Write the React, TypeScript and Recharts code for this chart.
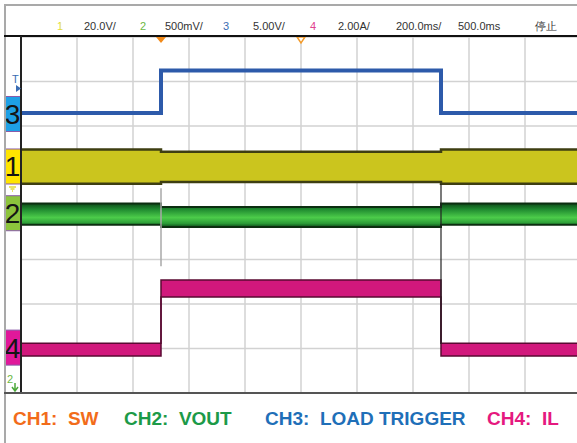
import React from "react"
import {
  ComposedChart,
  Area,
  Line,
  XAxis,
  YAxis,
  CartesianGrid,
  ReferenceLine,
  ReferenceDot
} from "recharts"

// time in ms (200 ms/div), levels in screen divisions (-4 .. 4)
const times = [0, 500, 500, 1500, 1500, 2000]
const ch3 = [2.29, 2.29, 3.25, 3.25, 2.29, 2.29]
const ch1Low = [0.7, 0.7, 0.74, 0.74, 0.7, 0.7]
const ch1High = [1.47, 1.47, 1.42, 1.42, 1.47, 1.47]
const ch2Low = [-0.22, -0.22, -0.27, -0.27, -0.22, -0.22]
const ch2High = [0.26, 0.26, 0.18, 0.18, 0.26, 0.26]
const ch4Low = [-3.17, -3.17, -1.84, -1.84, -3.17, -3.17]
const ch4High = [-2.88, -2.88, -1.46, -1.46, -2.88, -2.88]

const xTicks = [0, 200, 400, 600, 800, 1000, 1200, 1400, 1600, 1800, 2000]
const yTicks = [-4, -3, -2, -1, 0, 1, 2, 3, 4]

const channelBoxes = [
  { label: "3", level: 2.27, color: "#1ea0e6" },
  { label: "1", level: 1.09, color: "#ffe500" },
  { label: "2", level: 0.04, color: "#8cc43c" },
  { label: "4", level: -2.98, color: "#e0189a" }
]

const headerItems = [
  { text: "1", x: 57, color: "#e2dc3a" },
  { text: "20.0V/", x: 84, color: "#333" },
  { text: "2", x: 140, color: "#6cb844" },
  { text: "500mV/", x: 165, color: "#333" },
  { text: "3", x: 223, color: "#3a6cb2" },
  { text: "5.00V/", x: 253, color: "#333" },
  { text: "4", x: 310, color: "#e0428e" },
  { text: "2.00A/", x: 338, color: "#333" },
  { text: "200.0ms/", x: 396, color: "#333" },
  { text: "500.0ms", x: 458, color: "#333" },
  { text: "停止", x: 535, color: "#333" }
]

const legendItems = [
  { text: "CH1:  SW", x: 13, color: "#f26c1a" },
  { text: "CH2:  VOUT", x: 124, color: "#1c9a48" },
  { text: "CH3:  LOAD TRIGGER", x: 265, color: "#1f6fb8" },
  { text: "CH4:  IL", x: 487, color: "#e5197f" }
]

const data = times.map((t, i) => ({
  t,
  ch3: ch3[i],
  ch1: [ch1Low[i], ch1High[i]],
  ch2: [ch2Low[i], ch2High[i]],
  ch4: [ch4Low[i], ch4High[i]]
}))

function ChannelBox(props: any) {
  const { cx, cy, label, color } = props
  return (
    <g>
      <rect x={cx - 16} y={cy - 17.5} width={15.5} height={35} fill={color} stroke="#8a5aa8" strokeWidth={1} />
      <text x={cx - 8.5} y={cy + 10} textAnchor="middle" fontSize={28} fontFamily="Arial, 'Liberation Sans'" fill="#151515">
        {label}
      </text>
    </g>
  )
}

function TrigMarker(props: any) {
  const { cx, cy, hollow } = props
  return hollow ? (
    <path d={`M${cx - 4},${cy} L${cx + 4},${cy} L${cx},${cy + 6} Z`} fill="#fff" stroke="#f29a2a" strokeWidth={1.5} />
  ) : (
    <path d={`M${cx - 5},${cy} L${cx + 5},${cy} L${cx},${cy + 6} Z`} fill="#f28a1a" />
  )
}

export default function App() {
  return (
    <div
      style={{
        position: "absolute",
        left: 0,
        top: 0,
        width: 577,
        height: 443,
        overflow: "hidden",
        background: "#fff",
        fontFamily: "Arial, 'Liberation Sans', sans-serif"
      }}
    >
      <div style={{ position: "absolute", left: 0, top: 0 }}>
        <ComposedChart width={600} height={443} data={data} margin={{ top: 37, right: 19, left: 21, bottom: 50 }}>
          <defs>
            <linearGradient id="greenBand" x1="0" y1="0" x2="0" y2="1">
              <stop offset="0%" stopColor="#0d4a18" />
              <stop offset="25%" stopColor="#1f8a30" />
              <stop offset="60%" stopColor="#4ccc4a" />
              <stop offset="85%" stopColor="#2a9a36" />
              <stop offset="100%" stopColor="#0d4a18" />
            </linearGradient>
          </defs>
          <CartesianGrid stroke="#d2d2d2" strokeWidth={1.5} />
          <XAxis dataKey="t" type="number" domain={[0, 2000]} ticks={xTicks} hide />
          <YAxis type="number" domain={[-4, 4]} ticks={yTicks} hide />
          <ReferenceLine segment={[{ x: 500, y: 0.6 }, { x: 500, y: -1.15 }]} stroke="#a8a8a8" strokeWidth={1.5} />
          <ReferenceLine segment={[{ x: 1500, y: 0.7 }, { x: 1500, y: -2.9 }]} stroke="#222" strokeWidth={1.2} />
          <Area
            dataKey="ch1"
            type="linear"
            fill="#cbc51e"
            fillOpacity={1}
            stroke="#3e3e12"
            strokeWidth={2.5}
            isAnimationActive={false}
          />
          <Area
            dataKey="ch2"
            type="linear"
            fill="url(#greenBand)"
            fillOpacity={1}
            stroke="#0c2e10"
            strokeWidth={2}
            isAnimationActive={false}
          />
          <Area
            dataKey="ch4"
            type="linear"
            fill="#d1187c"
            fillOpacity={1}
            stroke="#5a0a32"
            strokeWidth={1.5}
            isAnimationActive={false}
          />
          <Line
            dataKey="ch3"
            type="linear"
            stroke="#2d5aaa"
            strokeWidth={4}
            dot={false}
            isAnimationActive={false}
          />
          {channelBoxes.map((b) => (
            <ReferenceDot
              key={b.label}
              x={0}
              y={b.level}
              ifOverflow="visible"
              shape={(p: any) => <ChannelBox {...p} label={b.label} color={b.color} />}
            />
          ))}
          <ReferenceDot x={500} y={4} ifOverflow="visible" shape={(p: any) => <TrigMarker {...p} />} />
          <ReferenceDot x={1000} y={4} ifOverflow="visible" shape={(p: any) => <TrigMarker {...p} hollow />} />
        </ComposedChart>
      </div>

      {/* frame */}
      <div style={{ position: "absolute", left: 4, top: 4, width: 600, height: 460, borderLeft: "2px solid #a9a9a9", borderTop: "2px solid #a9a9a9" }} />
      <div style={{ position: "absolute", left: 4, top: 35, width: 600, height: 2, background: "#111" }} />
      <div style={{ position: "absolute", left: 20, top: 36, width: 2, height: 357, background: "#222" }} />
      <div style={{ position: "absolute", left: 4, top: 392, width: 600, height: 2, background: "#555" }} />

      {/* trigger level / ground markers */}
      <div style={{ position: "absolute", left: 12, top: 74, fontSize: 11, color: "#3a6cb2", lineHeight: "11px" }}>T</div>
      <svg style={{ position: "absolute", left: 0, top: 0 }} width={30} height={443}>
        <path d="M16,85 L21,88.5 L16,92 Z" fill="#3a6cb2" />
        <path d="M9,187 L16,187 M10.5,189 L14.5,189 M12,191 L13,191" stroke="#e2dc3a" strokeWidth={1.5} />
        <path d="M15,383 L15,390 M12,387 L15,391 L18,387" stroke="#4aa83a" strokeWidth={1.5} fill="none" />
      </svg>
      <div style={{ position: "absolute", left: 7, top: 374, fontSize: 11, color: "#6cb844", lineHeight: "11px" }}>2</div>

      {headerItems.map((h) => (
        <div key={h.text + h.x} style={{ position: "absolute", left: h.x, top: 21, fontSize: 11, lineHeight: "11px", color: h.color, whiteSpace: "pre" }}>
          {h.text}
        </div>
      ))}

      {legendItems.map((l) => (
        <div key={l.text} style={{ position: "absolute", left: l.x, top: 409, fontSize: 19, fontWeight: "bold", lineHeight: "19px", color: l.color, whiteSpace: "pre" }}>
          {l.text}
        </div>
      ))}
    </div>
  )
}
